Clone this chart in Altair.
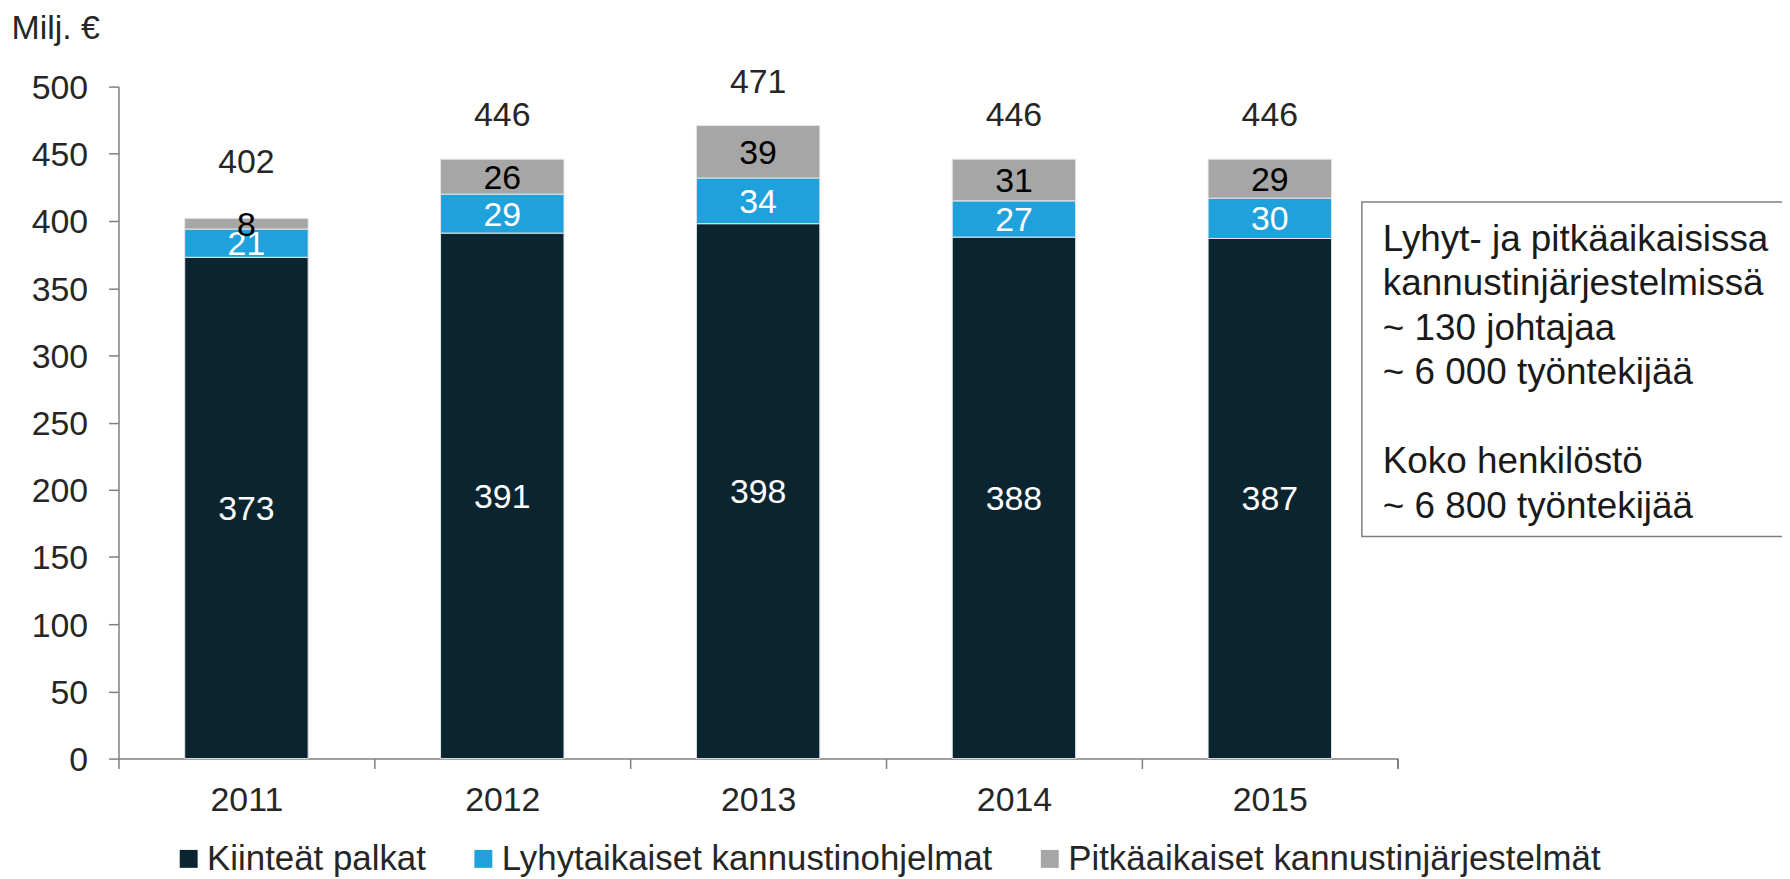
import altair as alt
import pandas as pd

years = ["2011", "2012", "2013", "2014", "2015"]
fixed_pay = [373, 391, 398, 388, 387]
short_term = [21, 29, 34, 27, 30]
long_term = [8, 26, 39, 31, 29]
totals = [402, 446, 471, 446, 446]

series = ["Kiinteät palkat", "Lyhytaikaiset kannustinohjelmat", "Pitkäaikaiset kannustinjärjestelmät"]
colors = ["#0a252f", "#1fa1dc", "#a6a6a6"]
label_colors = ["#ffffff", "#ffffff", "#000000"]

note_lines_top = [
    "Lyhyt- ja pitkäaikaisissa",
    "kannustinjärjestelmissä",
    "~ 130 johtajaa",
    "~ 6 000 työntekijää",
]
note_lines_bottom = [
    "Koko henkilöstö",
    "~ 6 800 työntekijää",
]

rows = []
for i, y in enumerate(years):
    for k, (name, vals) in enumerate(zip(series, [fixed_pay, short_term, long_term])):
        rows.append({"year": y, "series": name, "value": vals[i], "idx": k, "lc": label_colors[k]})
df = pd.DataFrame(rows)
tot_df = pd.DataFrame({"year": years, "total": totals})

FONT = "Liberation Sans"
TXT = "#262626"
AX = "#7f7f7f"
LH = 44.7

x_enc = alt.X(
    "year:N",
    scale=alt.Scale(paddingInner=0, paddingOuter=0),
    axis=alt.Axis(
        title=None, labelAngle=0, tickBand="extent", labelFontSize=34, labelColor=TXT,
        labelPadding=15, tickSize=10, tickColor=AX, tickWidth=1.5, domainColor=AX, domainWidth=1.5,
    ),
)

y_axis = alt.Axis(
    values=list(range(0, 501, 50)), grid=False, labelFontSize=34, labelColor=TXT,
    labelPadding=21, tickSize=10, tickColor=AX, tickWidth=1.5, domainColor=AX, domainWidth=1.5,
    labelOffset=2,
    title="Milj. €", titleAngle=0, titleAlign="left", titleBaseline="alphabetic",
    titleX=-108, titleY=-48, titleFontSize=34, titleFontWeight="normal", titleColor=TXT,
)
y_scale = alt.Scale(domain=[0, 500], nice=False)

bars = alt.Chart(df).mark_bar(width={"band": 0.4825}, stroke="#e6e6e6", strokeWidth=1).encode(
    x=x_enc,
    y=alt.Y("value:Q", stack="zero", scale=y_scale, axis=y_axis),
    color=alt.Color(
        "series:N",
        scale=alt.Scale(domain=series, range=colors),
        legend=alt.Legend(
            orient="none", legendX=53, legendY=758, direction="horizontal", title=None,
            symbolType="square", symbolSize=324, symbolStrokeWidth=0, symbolOpacity=1,
            labelFontSize=35, labelOffset=1, columnPadding=40, labelColor=TXT, labelFont=FONT,
            labelLimit=2000, padding=0,
        ),
        sort=series,
    ),
    order=alt.Order("idx:Q"),
)

seg_labels = (
    alt.Chart(df)
    .transform_stack(stack="value", groupby=["year"], as_=["v0", "v1"], sort=[alt.SortField("idx")])
    .transform_calculate(mid="(datum.v0 + datum.v1) / 2")
    .mark_text(fontSize=34, baseline="middle", dy=2)
    .encode(
        x=alt.X("year:N"),
        y=alt.Y("mid:Q", scale=y_scale, axis=y_axis),
        text=alt.Text("value:Q"),
        color=alt.Color("lc:N", scale=None),
    )
)

tot_main = (
    alt.Chart(tot_df)
    .transform_filter("datum.year != '2011'")
    .mark_text(fontSize=34, baseline="middle", dy=-43, color=TXT)
    .encode(x=alt.X("year:N"), y=alt.Y("total:Q", scale=y_scale, axis=y_axis), text=alt.Text("total:Q"))
)
tot_first = (
    alt.Chart(tot_df)
    .transform_filter("datum.year == '2011'")
    .mark_text(fontSize=34, baseline="middle", dy=-56, color=TXT)
    .encode(x=alt.X("year:N"), y=alt.Y("total:Q", scale=y_scale, axis=y_axis), text=alt.Text("total:Q"))
)

one = pd.DataFrame({"k": [0]})
end_tick = alt.Chart(one).mark_rule(color=AX, strokeWidth=1.5).encode(
    x=alt.value(1285), y=alt.value(675), y2=alt.value(685)
)
box = alt.Chart(one).mark_rect(fill="transparent", stroke=AX, strokeWidth=1.5).encode(
    x=alt.value(1249), x2=alt.value(1720), y=alt.value(116), y2=alt.value(452)
)
box_text_top = alt.Chart(one).mark_text(
    align="left", baseline="alphabetic", fontSize=37, lineHeight=LH, color="#1a1a1a"
).encode(x=alt.value(1270), y=alt.value(165), text=alt.value(note_lines_top))
box_text_bottom = alt.Chart(one).mark_text(
    align="left", baseline="alphabetic", fontSize=37, lineHeight=LH, color="#1a1a1a"
).encode(x=alt.value(1270), y=alt.value(165 + 5 * LH), text=alt.value(note_lines_bottom))

chart = (
    alt.layer(bars, seg_labels, tot_main, tot_first, end_tick, box, box_text_top, box_text_bottom)
    .properties(
        width=1285,
        height=675,
        autosize=alt.AutoSizeParams(type="none"),
        padding={"left": 111, "top": 77, "right": 386, "bottom": 120},
        background="white",
    )
    .configure(font=FONT)
    .configure_view(stroke=None)
)

chart.save("out.html", embed_options={"renderer": "svg", "actions": False})
